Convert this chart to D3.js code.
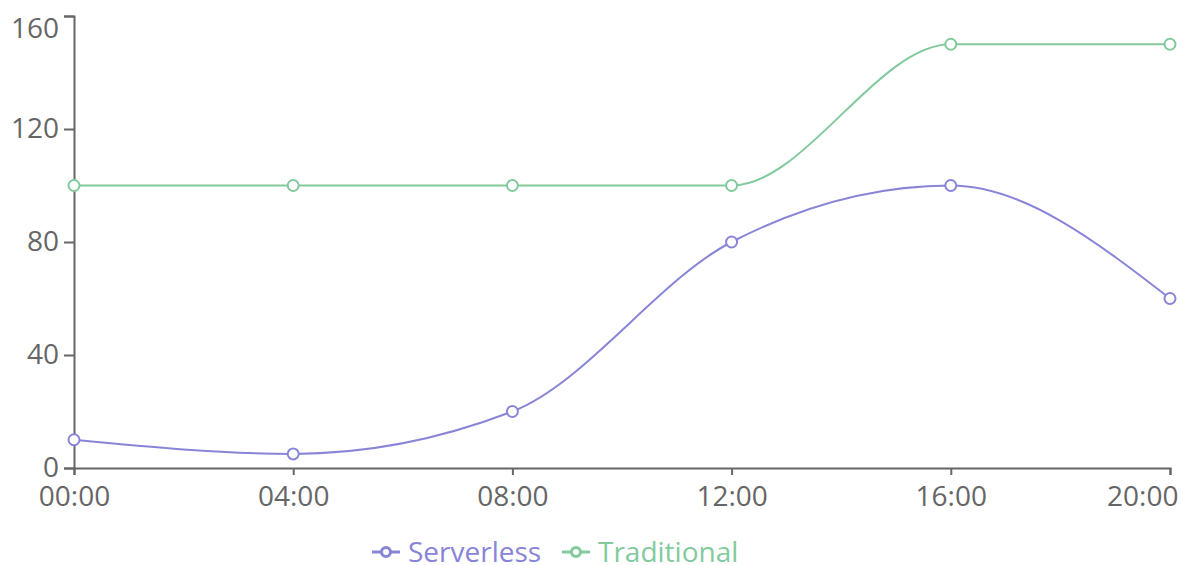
<!DOCTYPE html>
<html><head><meta charset="utf-8">
<script src="https://cdn.jsdelivr.net/npm/d3@7"></script>
<style>
body{margin:0;background:#fff;}
svg text{font-family:"Open Sans","Noto Sans",sans-serif;}
</style></head>
<body><svg id="c" width="1182" height="565"></svg>
<script>
const categories = ["00:00","04:00","08:00","12:00","16:00","20:00"];
const serverless = [10,5,20,80,100,60];
const traditional = [100,100,100,100,150,150];
const yTicks = [0,40,80,120,160];
const seriesNames = ["Serverless","Traditional"];
const colors = ["#8884d8","#82ca9d"];

(function(){
const svg = d3.select("#c");
const mLeft=74, mRight=1170, mTop=16, mBottom=468;
const x = d3.scalePoint().domain(categories).range([mLeft,mRight]);
const y = d3.scaleLinear().domain([0,160]).range([mBottom,mTop]);
const fs = 28;

const ya = svg.append("g").attr("transform",`translate(${mLeft},0)`)
  .call(d3.axisLeft(y).tickValues(yTicks).tickSize(10).tickPadding(5));
const xa = svg.append("g").attr("transform",`translate(0,${mBottom})`)
  .call(d3.axisBottom(x).tickSize(7).tickPadding(11));
[ya,xa].forEach(a=>{
  a.select(".domain").attr("stroke","#666").attr("stroke-width",2);
  a.selectAll(".tick line").attr("stroke","#666").attr("stroke-width",2);
  a.selectAll(".tick text").attr("fill","#666").attr("font-size",fs).attr("font-family","Open Sans");
});
// keep edge labels inside the picture
ya.selectAll(".tick").filter(d=>d===160).select("text").attr("dy","0.32em").attr("y",13);
xa.selectAll(".tick").filter(d=>d===categories[categories.length-1]).select("text")
  .attr("text-anchor","end").attr("x",8);

const series=[serverless,traditional];
const line=d3.line().x((d,i)=>x(categories[i])).y(d=>y(d)).curve(d3.curveMonotoneX);
series.forEach((s,k)=>{
  svg.append("path").attr("d",line(s)).attr("fill","none").attr("stroke",colors[k]).attr("stroke-width",2);
  svg.selectAll(null).data(s).enter().append("circle")
    .attr("cx",(d,i)=>x(categories[i])).attr("cy",d=>y(d)).attr("r",5.5)
    .attr("fill","#fff").attr("stroke",colors[k]).attr("stroke-width",2);
});

const lg = svg.append("g");
const lx=[372,562];
seriesNames.forEach((n,k)=>{
  const g=lg.append("g").attr("transform",`translate(${lx[k]},552)`);
  g.append("line").attr("x1",0).attr("x2",28).attr("y1",0).attr("y2",0).attr("stroke",colors[k]).attr("stroke-width",3);
  g.append("circle").attr("cx",14).attr("cy",0).attr("r",4.5).attr("fill","#fff").attr("stroke",colors[k]).attr("stroke-width",3);
  g.append("text").attr("x",36).attr("y",0).attr("dy","0.35em").attr("fill",colors[k]).attr("font-size",fs).text(n);
});
})();
</script></body></html>
